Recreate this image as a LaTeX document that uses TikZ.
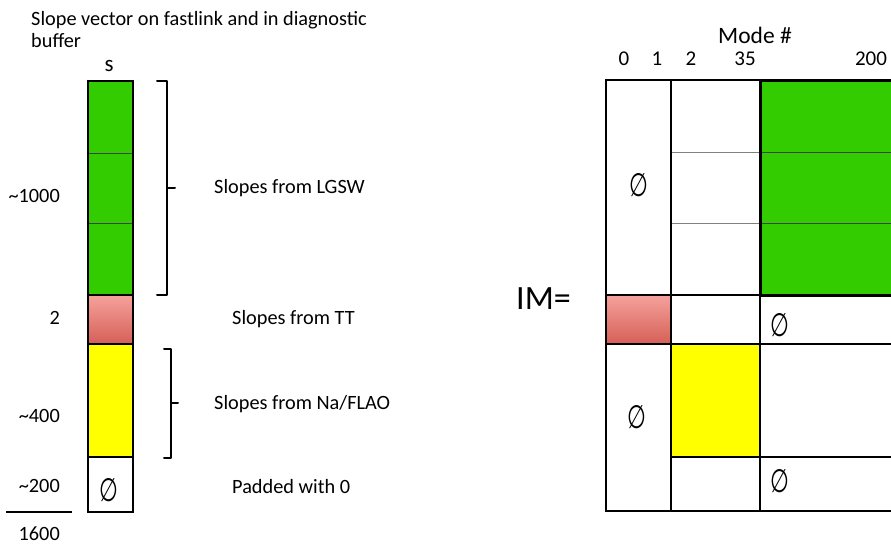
\documentclass[tikz,border=0pt]{standalone}
\usepackage{graphicx}
\usepackage{fontspec}
\setmainfont{Carlito}
\newfontfamily\setsymfont{DejaVu Sans}
\definecolor{slgreen}{HTML}{33CC00}
\definecolor{slyellow}{HTML}{FFFF00}
\definecolor{ttlight}{HTML}{F5A29C}
\definecolor{ttdark}{HTML}{D65F57}
\newcommand{\nullset}{\setsymfont\scalebox{0.72}[1.08]{∅}}
\tikzset{
  txt/.style={font=\fontsize{20.3}{24}\selectfont, inner sep=0pt, anchor=base},
  head/.style={font=\fontsize{21}{24}\selectfont, inner sep=0pt, anchor=base},
  big/.style={font=\fontsize{34}{38}\selectfont, inner sep=0pt, anchor=base},
  nul/.style={font=\fontsize{30}{32}\selectfont, inner sep=0pt},
  box/.style={draw, line width=2.4pt},
  grid/.style={draw, line width=2pt},
  seam/.style={draw=black!75, line width=1pt},
  faint/.style={draw=black!50, line width=1pt},
  brace/.style={draw, line width=2pt, line cap=round, line join=round},
  red fill/.style={top color=ttlight, bottom color=ttdark}
}
\begin{document}
\begin{tikzpicture}[x=1pt, y=-1pt]
\useasboundingbox (0,0) rectangle (891,546);
\clip (0,0) rectangle (891,546);
\fill[white] (0,0) rectangle (891,546);

% ---------- slope vector s ----------
\node[txt, anchor=base west] (title1) at (31,25) {Slope vector on fastlink and in diagnostic};
\node[txt, anchor=base west] (title2) at (31,47) {buffer};
\node[txt, font=\fontsize{23}{26}\selectfont] (sname) at (109,71) {s};

\fill[slgreen] (88,81) rectangle (133,295);
\draw[seam] (88,153) -- (133,153);
\draw[seam] (88,223) -- (133,223);
\draw[box] (88,81) rectangle (133,295);
\path[red fill] (88,295) rectangle (133,344);
\draw[box] (88,295) rectangle (133,344);
\draw[box, fill=slyellow] (88,344) rectangle (133,457);
\draw[box] (88,457) rectangle (133,512);
\node[nul] (snull) at (109,490) {\nullset};

% sizes
\node[txt, anchor=base east] (n1000) at (60,202) {\textasciitilde1000};
\node[txt, anchor=base east] (n2) at (60,324) {2};
\node[txt, anchor=base east] (n400) at (60,422) {\textasciitilde400};
\node[txt, anchor=base east] (n200) at (60,492) {\textasciitilde200};
\draw[line width=2pt] (6,512) -- (72,512);
\node[txt, anchor=base east] (n1600) at (60,540) {1600};

% braces
\draw[brace] (157,81) -- (167,81) -- (167,295) -- (157,295);
\draw[brace] (167,188) -- (175,188);
\draw[brace] (164,349) -- (171,349) -- (171,458) -- (164,458);
\draw[brace] (171,403) -- (178,403);

\node[txt, anchor=base west] (lgsw) at (214,193) {Slopes from LGSW};
\node[txt, anchor=base west] (tt) at (232,324) {Slopes from TT};
\node[txt, anchor=base west] (naflao) at (214,409) {Slopes from Na/FLAO};
\node[txt, anchor=base west] (pad) at (232,493) {Padded with 0};

% ---------- interaction matrix ----------
\node[big, anchor=base west] (im) at (516,309) {IM=};
\node[txt, font=\fontsize{23.5}{26}\selectfont] (mode) at (755,43) {Mode \#};
\node[head] (m0) at (624,65) {0};
\node[head] (m1) at (657,65) {1};
\node[head] (m2) at (691,65) {2};
\node[head] (m35) at (745,65) {35};
\node[head] (m200) at (871,65) {200};

\fill[slgreen] (760,80) rectangle (900,295);
\path[red fill] (606,295) rectangle (671,344);
\fill[slyellow] (671,344) rectangle (760,457);

\draw[faint] (671,152) -- (760,152);
\draw[faint] (671,223) -- (760,223);
\draw[seam] (760,152) -- (900,152);
\draw[seam] (760,223) -- (900,223);

\draw[grid] (900,80) -- (606,80) -- (606,511) -- (900,511);
\draw[grid] (671,80) -- (671,511);
\draw[grid] (760,80) -- (760,511);
\draw[grid] (606,295) -- (900,295);
\draw[grid] (606,344) -- (900,344);
\draw[grid] (671,457) -- (900,457);
\draw[line width=3pt] (760,80) rectangle (900,295);

\node[nul] (z1) at (639,185) {\nullset};
\node[nul] (z2) at (637,417) {\nullset};
\node[nul] (z3) at (780,325) {\nullset};
\node[nul] (z4) at (780,481) {\nullset};
\end{tikzpicture}
\end{document}
